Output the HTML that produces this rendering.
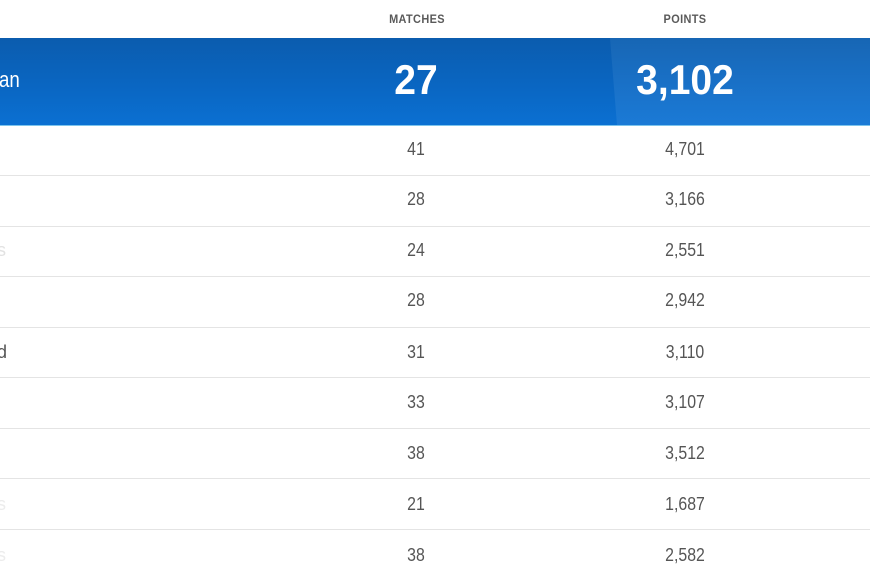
<!DOCTYPE html>
<html>
<head>
<meta charset="utf-8">
<style>
  html,body{margin:0;padding:0;}
  body{width:870px;height:580px;overflow:hidden;background:#fff;position:relative;font-family:"Liberation Sans",sans-serif;}
  .hdr{position:absolute;top:14px;font-size:11.5px;font-weight:bold;color:#5a5a5a;letter-spacing:0.4px;transform:translateX(-50%) scaleX(0.95);white-space:nowrap;}
  .band{position:absolute;left:0;top:38px;width:870px;height:87px;background:linear-gradient(180deg,#0b5cae 0%,#0a66c2 55%,#0b70d2 100%);}
  .band2{position:absolute;left:0;top:38px;width:870px;height:87px;background:linear-gradient(180deg,#1766b4 0%,#1970c6 50%,#1b7ad6 100%);clip-path:polygon(610px 0,870px 0,870px 87px,617px 87px,614px 50px);}
  .bandline{position:absolute;left:0;top:125px;width:870px;height:1px;background:#7cc4ec;}
  .big{position:absolute;top:57px;font-size:42px;font-weight:bold;color:#fff;line-height:46px;white-space:nowrap;transform:translateX(-50%) scaleX(0.93);}
  .name{position:absolute;top:67px;left:-1px;font-size:22px;color:#fff;line-height:26px;transform:scaleX(0.85);transform-origin:left center;}
  .sep{position:absolute;left:0;width:870px;height:1px;background:#e4e4e4;}
  .num{position:absolute;font-size:18px;line-height:20px;color:#555;white-space:nowrap;transform:translateX(-50%) scaleX(0.88);}
  .lt{position:absolute;left:-3px;font-size:18px;line-height:20px;color:#555;}
</style>
</head>
<body>
  <div class="hdr" style="left:417px;">MATCHES</div>
  <div class="hdr" style="left:685px;">POINTS</div>

  <div class="band"></div>
  <div class="band2"></div>
  <div class="bandline"></div>
  <div class="name">an</div>
  <div class="big" style="left:416px;">27</div>
  <div class="big" style="left:685px;">3,102</div>

  <div class="sep" style="top:175px;"></div>
  <div class="sep" style="top:226px;"></div>
  <div class="sep" style="top:276px;"></div>
  <div class="sep" style="top:327px;"></div>
  <div class="sep" style="top:377px;"></div>
  <div class="sep" style="top:428px;"></div>
  <div class="sep" style="top:478px;"></div>
  <div class="sep" style="top:529px;"></div>

  <div class="num" style="left:416px;top:139px;">41</div>
  <div class="num" style="left:685px;top:139px;">4,701</div>

  <div class="num" style="left:416px;top:189px;">28</div>
  <div class="num" style="left:685px;top:189px;">3,166</div>

  <div class="lt" style="top:240px;color:#e2e2e2;">s</div>
  <div class="num" style="left:416px;top:240px;">24</div>
  <div class="num" style="left:685px;top:240px;">2,551</div>

  <div class="num" style="left:416px;top:290px;">28</div>
  <div class="num" style="left:685px;top:290px;">2,942</div>

  <div class="lt" style="top:342px;">d</div>
  <div class="num" style="left:416px;top:342px;">31</div>
  <div class="num" style="left:685px;top:342px;">3,110</div>

  <div class="num" style="left:416px;top:392px;">33</div>
  <div class="num" style="left:685px;top:392px;">3,107</div>

  <div class="num" style="left:416px;top:443px;">38</div>
  <div class="num" style="left:685px;top:443px;">3,512</div>

  <div class="lt" style="top:494px;color:#ececec;">s</div>
  <div class="num" style="left:416px;top:494px;">21</div>
  <div class="num" style="left:685px;top:494px;">1,687</div>

  <div class="lt" style="top:545px;color:#ececec;">s</div>
  <div class="num" style="left:416px;top:545px;">38</div>
  <div class="num" style="left:685px;top:545px;">2,582</div>
</body>
</html>
